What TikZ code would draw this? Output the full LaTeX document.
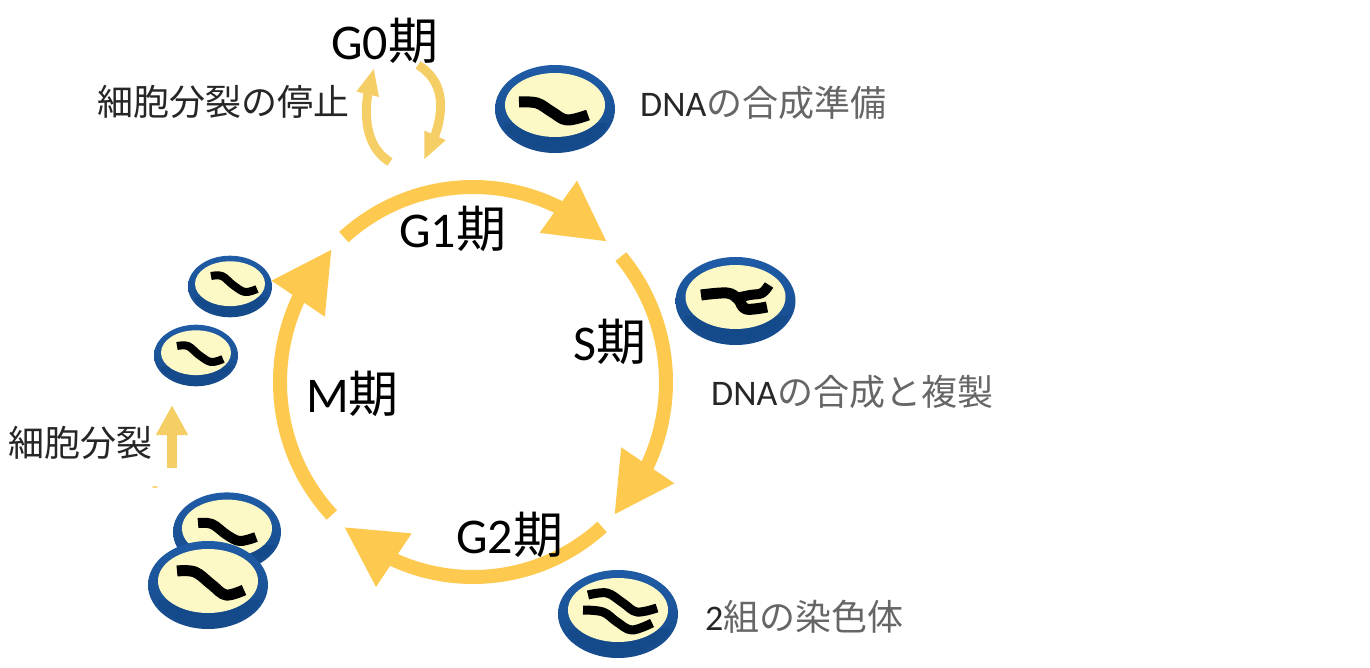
\documentclass[tikz,border=0pt]{standalone}
\usepackage{fontspec}
\setmainfont{Carlito}
\newfontfamily\jp{Noto Sans CJK JP}
\usetikzlibrary{arrows.meta, bending}

\definecolor{ringcol}{HTML}{FDC94F}
\definecolor{smallcol}{HTML}{F6CE66}
\definecolor{rimdark}{HTML}{154A8A}
\definecolor{rimmid}{HTML}{1F5CA6}
\definecolor{rimlight}{HTML}{6C9ADB}
\definecolor{creamcol}{HTML}{FCF9C6}

\tikzset{
	ring/.style = {ringcol, line width = 14pt, -{Triangle[length = 60pt, width = 60pt, flex]}},
	small/.style = {smallcol, line width = 9pt, -{Triangle[length = 27pt, width = 21pt, flex]}},
	phase/.style = {anchor = base west, inner sep = 0pt, font = \fontsize{50}{50}\selectfont},
	note/.style = {anchor = base west, inner sep = 0pt, font = \fontsize{36}{36}\selectfont, black!85},
	chromo/.style = {black, line width = #1, line cap = butt, line join = round}
}

% disc of a cell: centre x, centre y, scale
\newcommand{\celldisc}[3]{
	\begin{scope}[shift = {(#1,#2)}, scale = #3]
		\shade[top color = rimmid, bottom color = rimdark] (0,0) ellipse [x radius = 60, y radius = 44];
		\begin{scope}
			\clip (0,-2) ellipse [x radius = 58, y radius = 42];
			\shade[left color = rimdark, middle color = rimlight, right color = rimdark] (-50,15) rectangle (80,44);
		\end{scope}
		\fill[creamcol] (0,-4) ellipse [x radius = 50, y radius = 32];
	\end{scope}
}
\newcommand{\chromoline}[2]{
	\draw[chromo = #1] plot [smooth, tension = 0.6] coordinates {#2};
}

\begin{document}
\begin{tikzpicture}[x = 1pt, y = -1pt]
	\useasboundingbox (0,0) rectangle (1370,668);
	
	\coordinate (c) at (473,382);
	
	% cycle
	\begin{scope}[x radius = 193, y radius = 195]
		\draw[ring] (c) ++(228:193 and 195) arc [start angle = 228, end angle = 314];
		\draw[ring] (c) ++(-40:193 and 195) arc [start angle = -40, end angle = 43];
		\draw[ring] (c) ++(48:193 and 195) arc [start angle = 48, end angle = 132];
		\draw[ring] (c) ++(137:193 and 195) arc [start angle = 137, end angle = 223];
	\end{scope}
	
	% G0 loop
	\coordinate (g0a) at (390,162);
	\coordinate (g0b) at (374,68);
	\coordinate (g0c) at (418,65);
	\coordinate (g0d) at (424,160);
	\draw[small] (g0a) .. controls (362,145) and (362,105) .. (g0b);
	\draw[small] (g0c) .. controls (446,82) and (448,115) .. (g0d);
	
	% division
	\coordinate (up0) at (172,468);
	\coordinate (up1) at (172,405);
	\draw[smallcol, line width = 10pt, -{Triangle[length = 30pt, width = 30pt]}] (up0) -- (up1);
	\fill[ringcol] (155,487) ellipse [x radius = 3, y radius = 0.8];
	
	% cells
	\celldisc{555}{109}{1}
	\chromoline{11pt}{(519,102) (537,103) (552,112) (567,120) (588,115)}
	
	\celldisc{735.5}{301}{1}
	\chromoline{11pt}{(701,295) (727,293) (738,299) (746,309) (767,307)}
	\chromoline{10pt}{(736,298) (750,295) (762,293) (769,285)}
	
	\celldisc{618}{614}{1}
	\chromoline{9pt}{(588,595) (607,593) (623,603) (637,612) (657,608)}
	\chromoline{9pt}{(583,610) (603,612) (617,622) (632,630) (652,623)}
	
	\celldisc{230}{286.5}{0.7}
	\chromoline{8pt}{(211,276) (222,276) (233,285) (245,292) (257,289)}
	
	\celldisc{196}{355.5}{0.7}
	\chromoline{8pt}{(177,346) (188,346) (199,355) (211,362) (223,359)}
	
	\celldisc{227}{532}{0.9}
	\chromoline{10pt}{(198,523) (212,524) (227,535) (240,541) (256,537)}
	
	\celldisc{208}{585}{1}
	\chromoline{11pt}{(177,571) (195,572) (212,585) (226,595) (244,590)}
	
	% phase names
	\node[phase] (g0) at (331,60) {G0{\jp 期}};
	\node[phase] (g1) at (399,248) {G1{\jp 期}};
	\node[phase] (s) at (573,360) {S{\jp 期}};
	\node[phase] (g2) at (456,553) {G2{\jp 期}};
	\node[phase] (m) at (306,412) {M{\jp 期}};
	
	% notes
	\node[note] (stop) at (97,116) {\jp 細胞分裂の停止};
	\node[note] (prep) at (640,117) {DNA{\jp\color{black!60}の合成準備}};
	\node[note] (repl) at (711,405) {DNA{\jp\color{black!60}の合成と複製}};
	\node[note] (chrom) at (705,630) {2{\jp\color{black!60}組の染色体}};
	\node[note] (div) at (8,456) {\jp 細胞分裂};
\end{tikzpicture}
\end{document}
